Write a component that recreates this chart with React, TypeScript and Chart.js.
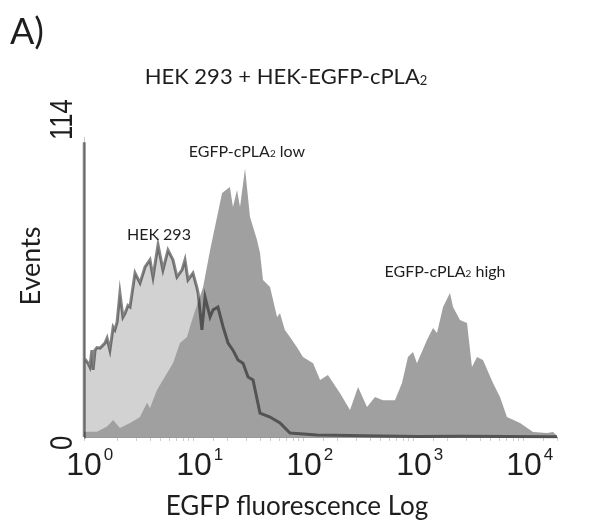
import React, { useEffect, useRef } from "react";
import { Chart, registerables } from "chart.js";

Chart.register(...registerables);

// ---- data ----
const hekX = [1, 1, 1.01, 1.09, 1.13, 1.18, 1.21, 1.26, 1.31, 1.4, 1.55, 1.62, 1.72, 1.84, 1.91, 2.0, 2.12, 2.26, 2.36, 2.51, 2.62, 2.91, 3.23, 3.59, 3.98, 4.24, 4.71, 5.22, 5.8, 6.44, 7.0, 7.78, 8.28, 8.82, 9.79, 10.6, 10.9, 11.8, 12.6, 14.0, 14.9, 16.5, 18.4, 20.4, 22.6, 25.1, 27.9, 31.0, 34.4, 39.8, 49.1, 60.5, 74.6, 131, 262, 490, 1122, 2618, 19953];
const hekY = [0, 112, 30, 28, 26.6, 33, 25.5, 33, 34, 33.8, 35.7, 37.6, 33, 41.8, 40.7, 43.7, 54.7, 45.6, 47, 50, 49.4, 62.3, 58.5, 64.6, 67.3, 60.8, 73, 63.5, 71, 67.3, 60.8, 63.5, 67.3, 59.7, 62.3, 57, 54.7, 40.7, 53.2, 45.6, 48.3, 49.4, 41.8, 35.7, 33, 29.3, 28, 22.8, 21.7, 9.1, 7.6, 5.3, 1.5, 0.8, 0.6, 0.4, 0.2, 0.3, 0.1];

const egfpX = [1, 1.31, 1.62, 1.84, 2.12, 2.62, 3.23, 3.74, 3.98, 4.61, 5.22, 6.44, 7.46, 8.63, 9.79, 12.1, 14.0, 16.2, 18.0, 21.2, 22.6, 24.6, 26.2, 29.1, 32.3, 37.4, 39.8, 42.4, 49.1, 56.9, 60.5, 67.0, 74.6, 86.0, 97.9, 121, 140, 165, 212, 262, 310, 374, 442, 522, 671, 778, 881, 979, 1064, 1312, 1489, 1618, 1837, 2123, 2265, 2618, 3034, 3365, 3741, 4236, 5224, 6053, 6998, 9204, 12078, 16181, 18365, 19953];
const egfpY = [2, 2, 4, 6.5, 3.4, 5.3, 7.6, 13, 11, 17.9, 21.7, 28, 35.7, 38, 45.6, 57, 71, 83.6, 92.7, 95, 87.4, 93.9, 87.4, 102, 83.6, 74.9, 70, 59.7, 57, 45.6, 47, 40.7, 38, 34.2, 30.4, 28, 21.7, 23.6, 16.7, 10.3, 19, 11.4, 15.2, 14, 14, 20.5, 30.4, 32.3, 28, 36.9, 41.4, 39.5, 49.4, 54.7, 49.4, 44.5, 43.3, 26.6, 30.4, 29.3, 20.5, 15.2, 7.6, 5.3, 1.9, 1.5, 1.9, 0.5];

const xTickValues = [1, 10, 100, 1000, 10000];
const xTickBase = "10";
const xTickExponents = ["0", "1", "2", "3", "4"];
const yTickValues = [0, 114];
const yTickLabels = ["0", "114"];
const xMin = 1;
const xMax = 19953;
const yMin = 0;
const yMax = 114;

const panelLabel = "A)";
const titleMain = "HEK 293 + HEK-EGFP-cPLA";
const titleSub = "2";
const xTitle = "EGFP fluorescence Log";
const yTitle = "Events";

const annotationTexts = ["HEK 293", "EGFP-cPLA", "EGFP-cPLA"];
const annotationSubs = ["", "2", "2"];
const annotationTails = ["", " low", " high"];
const annotationX = [4.8, 30.3, 1914];
const annotationY = [77, 108.7, 63];

const TEXT_FONT = "Lato, 'Open Sans', sans-serif";
const NUM_FONT = "'Liberation Sans', Arial, sans-serif";
const TEXT_COLOR = "#1e1e1e";

function drawParts(ctx: CanvasRenderingContext2D, parts: { t: string; size: number; dy: number }[], cx: number, baseY: number, family: string) {
  let total = 0;
  const widths = parts.map((p) => {
    ctx.font = `${p.size}px ${family}`;
    const w = ctx.measureText(p.t).width;
    total += w;
    return w;
  });
  let x = cx - total / 2;
  parts.forEach((p, i) => {
    ctx.font = `${p.size}px ${family}`;
    ctx.fillText(p.t, x, baseY + p.dy);
    x += widths[i];
  });
}

const textPlugin = {
  id: "customTexts",
  afterDraw(chart: any) {
    const ctx: CanvasRenderingContext2D = chart.ctx;
    const xs = chart.scales.x;
    const ys = chart.scales.y;
    const area = chart.chartArea;
    ctx.save();
    ctx.fillStyle = TEXT_COLOR;
    ctx.textBaseline = "alphabetic";
    ctx.textAlign = "left";

    // panel label
    ctx.font = `36px ${TEXT_FONT}`;
    ctx.fillText(panelLabel, 2, 36);

    // title
    drawParts(
      ctx,
      [
        { t: titleMain, size: 22, dy: 0 },
        { t: titleSub, size: 13, dy: 1 },
      ],
      278,
      76,
      TEXT_FONT
    );

    // x tick labels with superscripts
    xTickValues.forEach((v, i) => {
      const px = xs.getPixelForValue(v);
      ctx.textAlign = "center";
      ctx.font = `32px ${NUM_FONT}`;
      const w = ctx.measureText(xTickBase).width;
      ctx.fillText(xTickBase, px, area.bottom + 38);
      ctx.textAlign = "left";
      ctx.font = `17px ${NUM_FONT}`;
      ctx.fillText(xTickExponents[i], px + w / 2 + 2, area.bottom + 23);
    });

    // y tick labels (rotated)
    yTickValues.forEach((v, i) => {
      const py = ys.getPixelForValue(v);
      ctx.save();
      ctx.translate(area.left - 12, i === 0 ? py + 6 : py + 3);
      ctx.rotate(-Math.PI / 2);
      ctx.scale(0.8, 1);
      ctx.textAlign = i === 0 ? "center" : "left";
      ctx.font = `32px ${NUM_FONT}`;
      ctx.fillText(yTickLabels[i], 0, 0);
      ctx.restore();
    });

    // axis titles
    ctx.textAlign = "center";
    ctx.font = `26px ${TEXT_FONT}`;
    ctx.fillText(xTitle, 289, area.bottom + 78);
    ctx.save();
    ctx.translate(32, (area.top + area.bottom) / 2 - 21);
    ctx.rotate(-Math.PI / 2);
    ctx.font = `27px ${TEXT_FONT}`;
    ctx.fillText(yTitle, 0, 0);
    ctx.restore();

    // annotations
    ctx.textAlign = "left";
    annotationTexts.forEach((t, i) => {
      const px = xs.getPixelForValue(annotationX[i]);
      const py = ys.getPixelForValue(annotationY[i]);
      drawParts(
        ctx,
        [
          { t, size: 16, dy: 0 },
          { t: annotationSubs[i], size: 10, dy: 0 },
          { t: annotationTails[i], size: 16, dy: 0 },
        ],
        px,
        py + 6,
        TEXT_FONT
      );
    });
    ctx.restore();
  },
};

export default function App() {
  const ref = useRef<HTMLCanvasElement | null>(null);
  useEffect(() => {
    if (!ref.current) return;
    const hekPts = hekX.map((x, i) => ({ x, y: hekY[i] }));
    const egfpPts = egfpX.map((x, i) => ({ x, y: egfpY[i] }));
    const chart = new Chart(ref.current, {
      type: "line",
      data: {
        datasets: [
          {
            label: "HEK 293 outline",
            data: hekPts,
            borderColor: "rgba(0,0,0,0.48)",
            borderWidth: 3,
            fill: false,
            pointRadius: 0,
            tension: 0,
            order: 0,
            clip: 4,
          },
          {
            label: "EGFP-cPLA2",
            data: egfpPts,
            borderWidth: 0,
            borderColor: "rgba(0,0,0,0)",
            backgroundColor: "#a0a0a0",
            fill: "origin",
            pointRadius: 0,
            tension: 0,
            order: 1,
          },
          {
            label: "HEK 293",
            data: hekPts,
            borderWidth: 0,
            borderColor: "rgba(0,0,0,0)",
            backgroundColor: "#d2d2d2",
            fill: "origin",
            pointRadius: 0,
            tension: 0,
            order: 2,
          },
        ],
      },
      options: {
        responsive: false,
        animation: false,
        layout: { padding: { left: 76, top: 129, right: 35, bottom: 79 } },
        plugins: {
          legend: { display: false },
          tooltip: { enabled: false },
          title: { display: false },
        },
        scales: {
          x: {
            type: "logarithmic",
            min: xMin,
            max: xMax,
            ticks: { display: false },
            grid: { drawOnChartArea: false, drawTicks: true, tickLength: 4, color: "#cfcfcf" },
            border: { display: true, color: "#9a9a9a", width: 1 },
          },
          y: {
            type: "linear",
            min: yMin,
            max: yMax,
            ticks: { display: false },
            grid: { display: false, drawTicks: false, tickLength: 0 },
            border: { display: true, color: "#c8c8c8", width: 1 },
          },
        },
      },
      plugins: [textPlugin],
    });
    return () => chart.destroy();
  }, []);
  return (
    <div style={{ width: 584, height: 512 }}>
      <canvas ref={ref} width={584} height={512} style={{ display: "block" }} />
    </div>
  );
}
